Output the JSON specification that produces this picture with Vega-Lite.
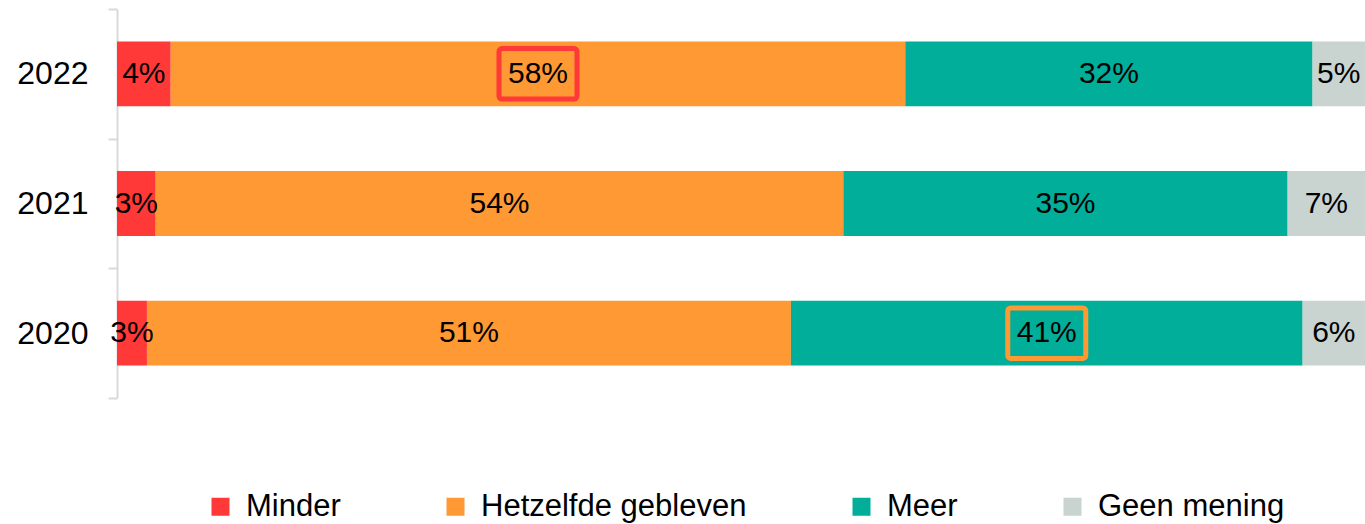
{
  "$schema": "https://vega.github.io/schema/vega-lite/v6.json",
  "width": 1248,
  "height": 389,
  "autosize": {"type": "none"},
  "padding": {"left": 117, "top": 9, "right": 0, "bottom": 126},
  "background": "white",
  "config": {"view": {"stroke": null}},
  "data": {
    "values": [
      {"year": "2022", "category": "Minder", "order": 1, "value": 4.3, "label": "4%"},
      {"year": "2022", "category": "Hetzelfde gebleven", "order": 2, "value": 58.8, "label": "58%"},
      {"year": "2022", "category": "Meer", "order": 3, "value": 32.6, "label": "32%"},
      {"year": "2022", "category": "Geen mening", "order": 4, "value": 4.2, "label": "5%"},
      {"year": "2021", "category": "Minder", "order": 1, "value": 3.1, "label": "3%"},
      {"year": "2021", "category": "Hetzelfde gebleven", "order": 2, "value": 55.1, "label": "54%"},
      {"year": "2021", "category": "Meer", "order": 3, "value": 35.6, "label": "35%"},
      {"year": "2021", "category": "Geen mening", "order": 4, "value": 6.2, "label": "7%"},
      {"year": "2020", "category": "Minder", "order": 1, "value": 2.4, "label": "3%"},
      {"year": "2020", "category": "Hetzelfde gebleven", "order": 2, "value": 51.6, "label": "51%"},
      {"year": "2020", "category": "Meer", "order": 3, "value": 41.0, "label": "41%"},
      {"year": "2020", "category": "Geen mening", "order": 4, "value": 5.0, "label": "6%"}
    ]
  },
  "transform": [
    {"stack": "value", "groupby": ["year"], "sort": [{"field": "order", "order": "ascending"}], "offset": "normalize", "as": ["x0", "x1"]},
    {"calculate": "(datum.x0 + datum.x1) / 2", "as": "mid"}
  ],
  "encoding": {
    "y": {
      "field": "year",
      "type": "nominal",
      "sort": ["2022", "2021", "2020"],
      "title": null,
      "scale": {"paddingInner": 0, "paddingOuter": 0},
      "axis": {
        "domainColor": "#d9d9d9",
        "domainWidth": 2,
        "tickColor": "#d9d9d9",
        "tickWidth": 2,
        "tickSize": 9,
        "tickBand": "extent",
        "labelFont": "Liberation Sans",
        "labelFontSize": 32,
        "labelColor": "#000000",
        "labelPadding": 20,
        "labelAngle": 0
      }
    }
  },
  "layer": [
    {
      "mark": {"type": "bar", "height": {"band": 0.5}},
      "encoding": {
        "x": {"field": "x0", "type": "quantitative", "scale": {"domain": [0, 1], "nice": false, "zero": false}, "axis": null},
        "x2": {"field": "x1"},
        "color": {
          "field": "category",
          "type": "nominal",
          "scale": {
            "domain": ["Minder", "Hetzelfde gebleven", "Meer", "Geen mening"],
            "range": ["#FF3838", "#FF9933", "#00AE9A", "#C9D3D0"]
          },
          "legend": {
            "title": null,
            "orient": "none",
            "legendX": 88,
            "legendY": 482,
            "direction": "horizontal",
            "symbolType": "square",
            "symbolSize": 324,
            "symbolStrokeWidth": 0,
            "labelFont": "Liberation Sans",
            "labelFontSize": 31,
            "labelColor": "#000000",
            "labelOffset": 10,
            "columnPadding": 99,
            "labelLimit": 500
          }
        }
      }
    },
    {
      "mark": {"type": "text", "font": "Liberation Sans", "fontSize": 30, "color": "#000000", "align": "center", "baseline": "middle"},
      "encoding": {
        "x": {"field": "mid", "type": "quantitative"},
        "text": {"field": "label"}
      }
    },
    {
      "transform": [{"filter": "datum.year == '2022' && datum.category == 'Hetzelfde gebleven'"}],
      "mark": {"type": "bar", "height": {"band": 0.39}, "fillOpacity": 0, "stroke": "#FF3838", "strokeWidth": 5, "cornerRadius": 3, "xOffset": -39, "x2Offset": 39},
      "encoding": {
        "x": {"field": "mid", "type": "quantitative"},
        "x2": {"field": "mid"}
      }
    },
    {
      "transform": [{"filter": "datum.year == '2020' && datum.category == 'Meer'"}],
      "mark": {"type": "bar", "height": {"band": 0.39}, "fillOpacity": 0, "stroke": "#FF9933", "strokeWidth": 5, "cornerRadius": 3, "xOffset": -39, "x2Offset": 39},
      "encoding": {
        "x": {"field": "mid", "type": "quantitative"},
        "x2": {"field": "mid"}
      }
    }
  ]
}
